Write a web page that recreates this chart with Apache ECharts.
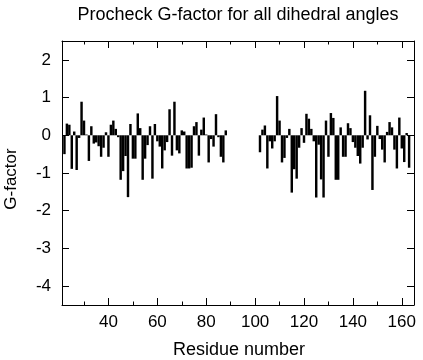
<!DOCTYPE html>
<html>
<head>
<meta charset="utf-8">
<script src="https://cdn.jsdelivr.net/npm/echarts@6/dist/echarts.min.js"></script>
<style>
html,body{margin:0;padding:0;background:#fff;}
#chart{width:423px;height:360px;}
</style>
</head>
<body>
<div id="chart"></div>
<script>
// Segment 1: residues starting at 22
const seg1Start = 22;
const seg1Values = [
  -0.50, 0.31, 0.28, -0.89, 0.10, -0.92, -0.07, 0.89, 0.39, 0.02,
  -0.68, 0.24, -0.22, -0.19, -0.29, -0.57, -0.33, 0.08, -0.57, 0.28,
  0.39, 0.17, -0.05, -1.18, -0.95, -0.55, -1.64, 0.30, -0.62, -0.62,
  0.58, 0.19, -1.18, -0.62, -0.26, 0.24, -1.15, 0.30, -0.16, -0.30,
  -0.88, -0.40, -0.18, 0.69, -0.54, 0.89, -0.40, -0.48, 0.13, 0.10,
  -0.88, -0.88, -0.86, 0.24, 0.35, -0.54, 0.15, 0.47, 0.02, -0.72,
  -0.10, -0.30, 0.56, -0.05, -0.57, -0.72, 0.13
];
// Segment 2: residues starting at 102
const seg2Start = 102;
const seg2Values = [
  -0.45, 0.15, 0.26, -0.88, -0.16, -0.35, -0.16, 1.04, 0.39, -0.72,
  -0.60, -0.07, 0.17, -1.52, -0.90, -1.15, -0.33, 0.19, -0.20, 0.57,
  0.44, 0.17, -0.16, -1.65, -0.25, -1.17, -1.65, 0.39, -0.57, 0.59,
  0.46, -1.18, -1.18, 0.21, -0.57, -0.57, 0.32, 0.19, -0.18, -0.33,
  -0.55, -0.75, -0.33, 1.18, -0.11, 0.53, -1.45, -0.57, 0.25, -0.10,
  -0.38, -0.72, 0.09, 0.35, 0.21, -0.38, -0.88, 0.47, -0.35, -0.71,
  0.06, -0.86
];
const xMajorTicks = [40, 60, 80, 100, 120, 140, 160];
const xMinorTicks = [30, 50, 70, 90, 110, 130, 150];
const yTicks = [-4, -3, -2, -1, 0, 1, 2];
const titleText = 'Procheck G-factor for all dihedral angles';
const xName = 'Residue number';
const yName = 'G-factor';

const data = [];
seg1Values.forEach((v, i) => data.push([seg1Start + i, v]));
seg2Values.forEach((v, i) => data.push([seg2Start + i, v]));

const FONT = '"Liberation Sans", Arial, Helvetica, sans-serif';
const chart = echarts.init(document.getElementById('chart'), null, {renderer: 'canvas'});

function xAx(pos, ticks, len, showLine, showLabel) {
  return {
    type: 'value', position: pos, min: 21, max: 165,
    axisLine: {show: showLine, onZero: false, lineStyle: {color: '#000', width: 1}},
    axisTick: {show: true, inside: true, length: len, customValues: ticks, lineStyle: {color: '#000', width: 1}},
    axisLabel: {show: showLabel, customValues: ticks, color: '#000', fontSize: 17, fontFamily: FONT, margin: 9},
    splitLine: {show: false}
  };
}
function yAx(pos, showLabel) {
  return {
    type: 'value', position: pos, min: -4.5, max: 2.5,
    axisLine: {show: true, onZero: false, lineStyle: {color: '#000', width: 1}},
    axisTick: {show: true, inside: true, length: 7, customValues: yTicks, lineStyle: {color: '#000', width: 1}},
    axisLabel: {show: showLabel, customValues: yTicks, color: '#000', fontSize: 17, fontFamily: FONT, margin: 11},
    splitLine: {show: false}
  };
}

chart.setOption({
  backgroundColor: '#fff',
  animation: false,
  grid: {left: 62, right: 9, top: 41, bottom: 55, containLabel: false},
  xAxis: [
    xAx('bottom', xMajorTicks, 7, true, true),
    xAx('bottom', xMinorTicks, 3.5, false, false),
    xAx('top', xMajorTicks, 7, true, false),
    xAx('top', xMinorTicks, 3.5, false, false)
  ],
  yAxis: [yAx('left', true), yAx('right', false)],
  graphic: [
    {type: 'text', x: 238, y: 15, style: {text: titleText, fill: '#000', font: '18px ' + FONT, align: 'center', verticalAlign: 'middle'}},
    {type: 'text', x: 239, y: 350, style: {text: xName, fill: '#000', font: '18px ' + FONT, align: 'center', verticalAlign: 'middle'}},
    {type: 'text', x: 11, y: 179, rotation: Math.PI / 2, style: {text: yName, fill: '#000', font: '17px ' + FONT, align: 'center', verticalAlign: 'middle'}}
  ],
  series: [{
    type: 'custom',
    xAxisIndex: 0, yAxisIndex: 0,
    data: data,
    renderItem: function (params, api) {
      const r = api.value(0), v = api.value(1);
      const p0 = api.coord([r - 0.5, 0]);
      const p1 = api.coord([r + 0.5, v]);
      return {
        type: 'rect',
        shape: {x: p0[0], y: Math.min(p0[1], p1[1]), width: p1[0] - p0[0], height: Math.abs(p1[1] - p0[1])},
        style: {fill: '#000'}
      };
    }
  }]
});
</script>
</body>
</html>
